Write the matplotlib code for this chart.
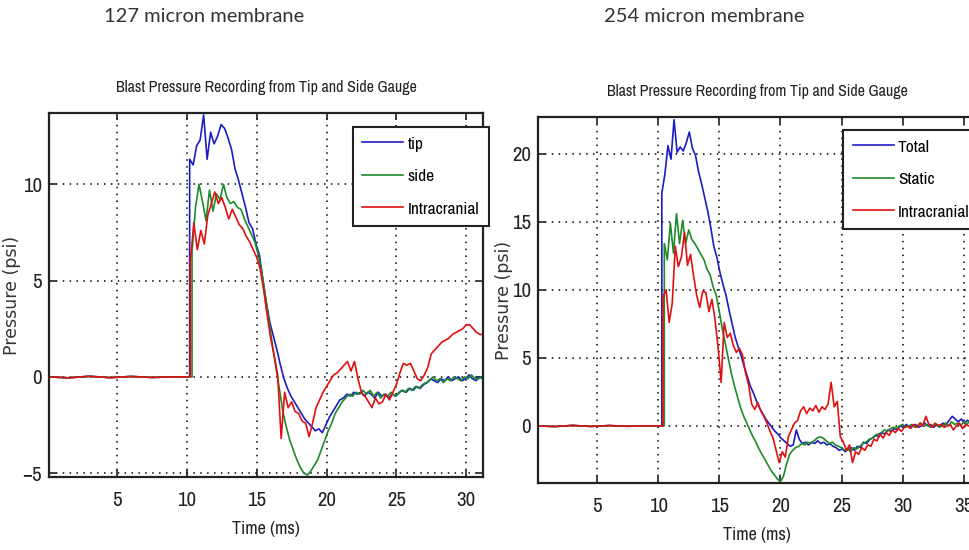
import numpy as np
import matplotlib
matplotlib.use("Agg")
import matplotlib.pyplot as plt

# ---- data: pressure (psi) ----
# each trace: flat baseline up to the jump time, then samples every 0.25 ms
base_t = [0.1, 1.5, 3.0, 4.5, 6.0, 7.5, 9.0]
base_v = [0.0, -0.05, 0.03, -0.04, 0.02, -0.03, 0.0]
step = 0.25

# 127 micron membrane
tip_jump = 10.2
tip = [11.3, 11.0, 12.0, 12.3, 13.6, 11.3, 12.7, 12.1, 12.5, 13.1, 12.9, 12.4, 11.8,
       10.8, 10.2, 9.5, 8.8, 8.0, 7.7, 6.9, 6.3, 5.0, 3.8, 2.8, 2.1, 1.4, 0.6, -0.1,
       -0.6, -1.0, -1.3, -1.6, -1.9, -2.2, -2.4, -2.6, -2.8, -2.7, -2.9, -2.5, -2.1,
       -1.8, -1.5, -1.2, -1.1, -0.9, -1.0, -0.8, -0.9, -0.8, -1.0, -0.8, -0.9, -1.1,
       -0.8, -1.0, -0.9, -1.1, -0.9, -1.0, -0.8, -0.7, -0.8, -0.6, -0.7, -0.5, -0.6,
       -0.4, -0.3, -0.1, -0.2, -0.3, -0.1, -0.2, 0.0, -0.2, -0.1, 0.0, -0.2, -0.1,
       0.1, -0.1, -0.2, 0.0, -0.1]
side_jump = 10.37
side = [6.5, 8.8, 10.0, 9.1, 8.1, 9.7, 8.6, 9.5, 9.2, 10.0, 9.3, 9.0, 9.1, 8.8, 8.7,
        8.2, 7.8, 7.4, 7.0, 6.3, 5.4, 4.2, 2.9, 1.7, 0.5, -0.6, -1.8, -2.6, -3.3,
        -3.8, -4.3, -4.7, -5.0, -5.1, -4.9, -4.6, -4.3, -3.8, -3.3, -2.8, -2.4, -1.9,
        -1.6, -1.3, -1.1, -0.9, -1.0, -0.8, -0.9, -0.7, -0.9, -0.7, -1.0, -0.8, -1.1,
        -0.9, -1.0, -0.8, -1.0, -0.9, -0.7, -0.8, -0.6, -0.7, -0.5, -0.6, -0.4, -0.3,
        -0.2, 0.0, -0.2, -0.1, -0.3, -0.1, -0.2, 0.0, -0.1, -0.2, 0.0, -0.1, 0.1,
        -0.1, -0.1, 0.0]
icp1_jump = 10.25
icp1 = [6.0, 8.0, 6.6, 7.6, 6.9, 8.4, 9.0, 9.6, 9.0, 9.3, 8.8, 8.2, 8.7, 8.3, 7.9,
        7.7, 7.3, 7.0, 6.6, 6.2, 5.6, 4.5, 3.2, 2.0, 1.1, 0.1, -3.2, -0.8, -1.6,
        -1.3, -1.8, -1.9, -2.3, -2.4, -3.1, -2.4, -1.6, -1.2, -0.8, -0.5, -0.2, 0.1,
        0.2, 0.4, 0.6, 0.8, 0.3, 0.8, -0.1, -0.8, -1.0, -1.3, -1.6, -1.1, -1.4, -1.3,
        -0.9, -1.2, -0.8, -0.4, 0.2, 0.7, 0.6, 0.7, 0.3, -0.1, -0.2, 0.1, 0.5, 1.2,
        1.4, 1.6, 1.8, 1.9, 2.0, 2.2, 2.3, 2.4, 2.5, 2.7, 2.7, 2.5, 2.3, 2.2, 2.2]

# 254 micron membrane
total_jump = 10.3
total = [17.1, 18.5, 20.6, 19.6, 22.5, 20.1, 20.5, 20.2, 20.8, 21.6, 20.4, 19.9, 18.7,
         17.8, 16.8, 15.8, 14.6, 13.2, 12.4, 11.3, 10.4, 9.6, 8.5, 7.5, 6.5, 5.8, 5.1,
         4.3, 3.6, 2.9, 2.4, 1.8, 1.3, 0.9, 0.5, 0.2, -0.1, -0.4, -0.6, -0.9, -1.1,
         -1.3, -1.5, -1.4, -0.3, -1.0, -1.3, -1.2, -1.4, -1.2, -1.3, -1.1, -1.3, -1.2,
         -1.4, -1.3, -1.5, -1.6, -1.8, -1.7, -1.9, -1.7, -1.6, -1.8, -1.5, -1.6, -1.2,
         -1.3, -1.0, -0.9, -0.7, -0.8, -0.5, -0.6, -0.3, -0.4, -0.2, -0.3, 0.0, -0.1,
         0.1, -0.1, 0.0, 0.1, -0.1, 0.0, 0.2, 0.0, 0.1, -0.1, 0.1, 0.0, 0.2, 0.1, 0.4,
         0.7, 0.5, 0.3, 0.5, 0.2, 0.4, 0.3, 0.4, 0.3]
static_jump = 10.5
static = [13.4, 12.2, 14.9, 12.7, 15.6, 13.4, 15.1, 13.4, 14.4, 13.7, 13.4, 13.0, 12.6,
          12.2, 11.5, 11.1, 10.2, 9.6, 8.4, 7.1, 6.0, 4.9, 3.8, 2.9, 2.1, 1.3, 0.7,
          0.2, -0.3, -0.8, -1.2, -1.7, -2.1, -2.5, -2.9, -3.3, -3.6, -3.9, -4.1, -3.7,
          -2.8, -2.1, -1.8, -1.6, -1.5, -1.3, -1.4, -1.2, -1.3, -1.1, -0.9, -0.8, -0.9,
          -1.1, -1.3, -1.2, -1.4, -1.5, -1.6, -1.8, -1.7, -1.9, -1.6, -1.7, -1.5, -1.3,
          -1.2, -1.0, -0.9, -0.7, -0.6, -0.5, -0.3, -0.4, -0.2, -0.1, -0.2, 0.0, 0.1,
          -0.1, 0.0, 0.1, -0.1, 0.0, 0.2, 0.0, 0.1, -0.1, 0.0, 0.1, -0.1, 0.0, 0.2, 0.0,
          0.3, 0.1, 0.2, 0.0, 0.3, 0.1, 0.4, 0.2, 0.3]
icp2_jump = 10.4
icp2 = [9.5, 10.0, 7.6, 9.0, 13.2, 11.7, 12.4, 14.2, 11.8, 12.6, 11.0, 9.6, 8.7, 9.9,
        9.8, 8.4, 9.3, 7.8, 5.8, 3.2, 7.6, 6.5, 6.8, 5.9, 5.4, 5.7, 5.2, 3.9, 3.0, 1.6,
        1.2, 1.7, 1.1, 0.7, 0.2, -0.4, -0.9, -1.8, -2.7, -1.9, -2.3, -0.8, -0.3, 0.2,
        0.4, 1.1, 1.4, 0.9, 1.3, 1.1, 1.5, 1.0, 1.4, 1.2, 1.6, 3.2, 1.4, 1.8, -0.8,
        -1.2, -1.8, -1.4, -2.7, -1.9, -2.1, -1.6, -1.8, -1.4, -1.5, -1.0, -1.1, -0.6,
        -0.9, -0.5, -0.7, -0.3, -0.5, -0.2, -0.4, -0.1, 0.0, -0.2, 0.1, -0.1, 0.2, 0.0,
        0.7, 0.1, -0.1, 0.2, 0.0, 0.1, -0.1, 0.0, 0.1, -0.3, 0.0, 0.2, -0.2, 0.1, 0.0,
        -0.1, 0.1]

BLUE, GREEN, RED = '#1c1cc4', '#1e8a2a', '#e01010'
NARROW = ['Archivo Narrow', 'DejaVu Sans']
INK = '#222222'


def trace(jump, vals):
    t = np.concatenate([base_t, [jump], jump + step * np.arange(len(vals))])
    v = np.concatenate([base_v, [0.0], vals])
    return t, v


def style_axes(ax, xlim, ylim, xticks, yticks, ylab_x):
    ax.set_xlim(*xlim)
    ax.set_ylim(*ylim)
    ax.set_xticks(xticks)
    ax.set_yticks(yticks)
    ax.grid(True, color='k', linestyle=(0, (1, 3.5)), linewidth=1.1)
    ax.tick_params(direction='in', top=True, right=True, length=5, width=1.2,
                   labelsize=15, colors=INK)
    ax.tick_params(axis='x', pad=10)
    ax.tick_params(axis='y', pad=5)
    for lab in ax.get_xticklabels() + ax.get_yticklabels():
        lab.set_family(NARROW)
    for s in ax.spines.values():
        s.set_linewidth(1.6)
        s.set_color(INK)
    ax.set_title('Blast Pressure Recording from Tip and Side Gauge', family=NARROW,
                 fontsize=11.5, pad=15, color=INK)
    ax.set_xlabel('Time (ms)', family=NARROW, fontsize=13, color=INK, labelpad=8)
    ax.set_ylabel('Pressure (psi)', family='DejaVu Sans', fontsize=12.5, color='#333333')
    ax.yaxis.set_label_coords(ylab_x, 0.5)


def add_legend(ax, anchor):
    leg = ax.legend(loc='upper left', bbox_to_anchor=anchor, fancybox=False,
                    edgecolor=INK, prop={'family': NARROW, 'size': 12.5},
                    handlelength=2.35, handletextpad=0.25, labelspacing=1.0,
                    borderpad=0.55, borderaxespad=0.0, framealpha=1)
    leg.get_frame().set_linewidth(1.5)


fig = plt.figure(figsize=(9.7, 5.5), dpi=100)

# left panel
ax1 = fig.add_axes([49 / 970, 1 - 477 / 550, 434 / 970, 364 / 550])
for (jump, vals), col, lab in [((tip_jump, tip), BLUE, 'tip'),
                               ((side_jump, side), GREEN, 'side'),
                               ((icp1_jump, icp1), RED, 'Intracranial')]:
    t, v = trace(jump, vals)
    ax1.plot(t, v, color=col, lw=1.2, label=lab)
style_axes(ax1, (0.13, 31.2), (-5.2, 13.7), [5, 10, 15, 20, 25, 30], [-5, 0, 5, 10], -0.064)
add_legend(ax1, (0.700, 0.962))

# right panel
ax2 = fig.add_axes([538 / 970, 1 - 483 / 550, 438 / 970, 366 / 550])
for (jump, vals), col, lab in [((total_jump, total), BLUE, 'Total'),
                               ((static_jump, static), GREEN, 'Static'),
                               ((icp2_jump, icp2), RED, 'Intracranial')]:
    t, v = trace(jump, vals)
    ax2.plot(t, v, color=col, lw=1.2, label=lab)
style_axes(ax2, (0.17, 36.0), (-4.2, 22.7), [5, 10, 15, 20, 25, 30, 35],
           [0, 5, 10, 15, 20], -0.056)
add_legend(ax2, (0.697, 0.965))

fig.text(204 / 970, 1 - 16 / 550, '127 micron membrane', family=['Lato', 'DejaVu Sans'],
         fontsize=14.5, color='#333333', ha='center', va='center')
fig.text(704 / 970, 1 - 16 / 550, '254 micron membrane', family=['Lato', 'DejaVu Sans'],
         fontsize=14.5, color='#333333', ha='center', va='center')

fig.savefig('out.png', dpi=100)
